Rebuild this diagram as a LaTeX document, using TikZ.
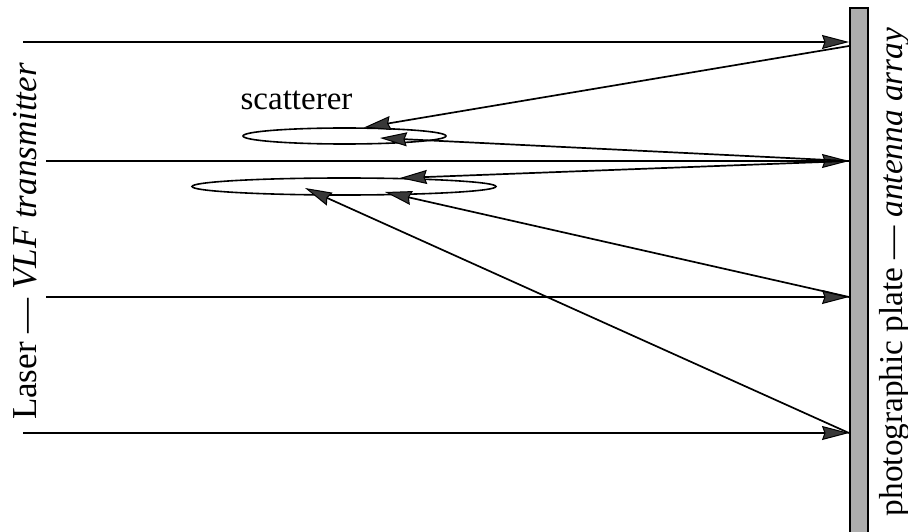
\documentclass[tikz,border=0pt]{standalone}
\usepackage{fontspec}
\setmainfont{Liberation Serif}
\usetikzlibrary{arrows.meta,shapes.geometric}

\begin{document}
\begin{tikzpicture}[x=1pt,y=-1pt,
  ray/.style={line width=1.7pt,-{Stealth[length=27pt,width=14pt,inset=2.5pt,fill=black!78,line width=1pt]}},
  beam/.style={ray},
  scat/.style={ellipse,draw,line width=1.6pt,inner sep=0pt},
  platebox/.style={rectangle,draw,line width=1.2pt,fill=black!32,inner sep=0pt,
    minimum width=18pt},
  biglabel/.style={font=\fontsize{34}{40}\selectfont,inner sep=0pt},
]
\useasboundingbox (0,0) rectangle (908,532);

% photographic plate / antenna array
\node[platebox,minimum height=540pt,anchor=north] (plate) at (859,7.5) {};

% scatterers
\node[scat,minimum width=203pt,minimum height=16pt] (s1) at (344.5,136) {};
\node[scat,minimum width=304pt,minimum height=17pt] (s2) at (344,186.5) {};
\node[biglabel,font=\fontsize{33}{40}\selectfont,anchor=base] (lab) at (296.5,110) {scatterer};

% side labels
\node[biglabel,font=\fontsize{35}{40}\selectfont,rotate=90,anchor=base] (src) at (36,241.5)
  {Laser --- \textit{VLF transmitter}};
\node[biglabel,font=\fontsize{33.3}{40}\selectfont,rotate=90,anchor=base] (rcv) at (902,272)
  {photographic plate --- \textit{antenna array}};

% beam start points
\coordinate (l1) at (23,42);
\coordinate (l2) at (46,161);
\coordinate (l3) at (46,297);
\coordinate (l4) at (23,433);

% points on the plate
\coordinate (p1) at (849,42);
\coordinate (p1b) at (849,46);
\coordinate (p2) at (849,161);
\coordinate (p3) at (849,297);
\coordinate (p4) at (849,433);

% points reached on the scatterers
\coordinate (t1) at (364,127.5);
\coordinate (t2) at (380,138);
\coordinate (t3) at (400,178);
\coordinate (t4) at (385,192);
\coordinate (t5) at (305,188);

% reference beams
\draw[beam] (l1) -- (p1);
\draw[beam] (l2) -- (p2);
\draw[beam] (l3) -- (p3);
\draw[beam] (l4) -- (p4);

% scattered rays
\draw[ray] (p1b) -- (t1);
\draw[ray] (p2) -- (t2);
\draw[ray] (p2) -- (t3);
\draw[ray] (p3) -- (t4);
\draw[ray] (p4) -- (t5);
\end{tikzpicture}
\end{document}
